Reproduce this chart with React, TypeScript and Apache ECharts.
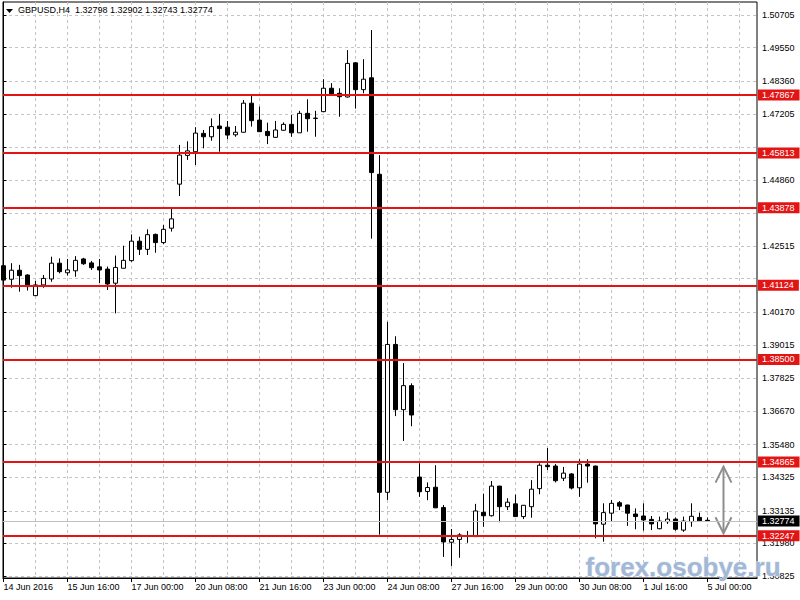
import React, { useEffect, useRef } from 'react';
import * as echarts from 'echarts';

// ---- data (GBPUSD, H4) ----
const X_TICK_LABELS = ['14 Jun 2016', '15 Jun 16:00', '17 Jun 00:00', '20 Jun 08:00', '21 Jun 16:00', '23 Jun 00:00', '24 Jun 08:00', '27 Jun 16:00', '29 Jun 00:00', '30 Jun 08:00', '1 Jul 16:00', '5 Jul 00:00'];
const BARS_PER_LABEL = 8;
const BARS_PER_GRID = 4;

const OPEN = [
  1.4182, 1.4134, 1.4166, 1.4149, 1.4076, 1.4114, 1.4135, 1.4191, 1.4157, 1.4164,
  1.4206, 1.4192, 1.4178, 1.4170, 1.4120, 1.4173, 1.4200, 1.4269, 1.4240, 1.4293,
  1.4264, 1.4315, 1.4471, 1.4573, 1.4586, 1.4651, 1.4639, 1.4677, 1.4673, 1.4646,
  1.4655, 1.4758, 1.4698, 1.4658, 1.4637, 1.4662, 1.4683, 1.4653, 1.4722, 1.4705,
  1.4728, 1.4811, 1.4793, 1.4780, 1.4901, 1.4806, 1.4848, 1.4506, 1.3379, 1.3903,
  1.3672, 1.3757, 1.3433, 1.3382, 1.3397, 1.3325, 1.3202, 1.3212, 1.3225, 1.3222,
  1.3308, 1.3296, 1.3401, 1.3328, 1.3338, 1.3293, 1.3328, 1.3392, 1.3475, 1.3472,
  1.3429, 1.3444, 1.3395, 1.3479, 1.3472, 1.3266, 1.3305, 1.3342, 1.3334, 1.3302,
  1.3295, 1.3283, 1.3250, 1.3275, 1.3284, 1.3245, 1.3275, 1.3290, 1.32798,
];
const HIGH = [
  1.4188, 1.4191, 1.4185, 1.4152, 1.4128, 1.4149, 1.4214, 1.4208, 1.4206, 1.4216,
  1.4210, 1.4199, 1.4206, 1.4179, 1.4218, 1.4253, 1.4293, 1.4285, 1.4311, 1.4296,
  1.4326, 1.4383, 1.4610, 1.4623, 1.4673, 1.4663, 1.4704, 1.4720, 1.4695, 1.4677,
  1.4769, 1.4784, 1.4746, 1.4689, 1.4695, 1.4690, 1.4716, 1.4731, 1.4772, 1.4731,
  1.4843, 1.4829, 1.4811, 1.4946, 1.4903, 1.4914, 1.5017, 1.4574, 1.3983, 1.3932,
  1.3837, 1.3765, 1.3482, 1.3414, 1.3475, 1.3334, 1.3249, 1.3234, 1.3242, 1.3338,
  1.3374, 1.3419, 1.3402, 1.3358, 1.3371, 1.3334, 1.3422, 1.3482, 1.3536, 1.3479,
  1.3469, 1.3447, 1.3496, 1.3496, 1.3473, 1.3340, 1.3352, 1.3348, 1.3335, 1.3322,
  1.3340, 1.3295, 1.3293, 1.3308, 1.3290, 1.3293, 1.3340, 1.3307, 1.32902,
];
const LOW = [
  1.4121, 1.4104, 1.4090, 1.4094, 1.4075, 1.4104, 1.4125, 1.4155, 1.4147, 1.4143,
  1.4185, 1.4167, 1.4120, 1.4096, 1.4013, 1.4173, 1.4196, 1.4220, 1.4220, 1.4228,
  1.4259, 1.4303, 1.4429, 1.4557, 1.4539, 1.4598, 1.4625, 1.4586, 1.4630, 1.4639,
  1.4654, 1.4675, 1.4656, 1.4613, 1.4636, 1.4661, 1.4639, 1.4653, 1.4657, 1.4639,
  1.4727, 1.4790, 1.4710, 1.4778, 1.4739, 1.4793, 1.4278, 1.3229, 1.3352, 1.3649,
  1.3561, 1.3613, 1.3363, 1.3351, 1.3323, 1.3150, 1.3118, 1.3147, 1.3200, 1.3221,
  1.3257, 1.3293, 1.3273, 1.3316, 1.3292, 1.3284, 1.3289, 1.3372, 1.3458, 1.3414,
  1.3419, 1.3389, 1.3363, 1.3413, 1.3216, 1.3204, 1.3275, 1.3316, 1.3260, 1.3248,
  1.3243, 1.3245, 1.3248, 1.3267, 1.3243, 1.3239, 1.3257, 1.3277, 1.32743,
];
const CLOSE = [
  1.4131, 1.4166, 1.4147, 1.4108, 1.4114, 1.4137, 1.4191, 1.4161, 1.4167, 1.4201,
  1.4189, 1.4175, 1.4167, 1.4117, 1.4176, 1.4201, 1.4269, 1.4240, 1.4292, 1.4264,
  1.4311, 1.4348, 1.4574, 1.4589, 1.4652, 1.4639, 1.4675, 1.4668, 1.4645, 1.4655,
  1.4758, 1.4696, 1.4657, 1.4643, 1.4663, 1.4683, 1.4653, 1.4722, 1.4703, 1.4704,
  1.4811, 1.4791, 1.4781, 1.4899, 1.4806, 1.4843, 1.4512, 1.3379, 1.3903, 1.3672,
  1.3757, 1.3653, 1.3381, 1.3396, 1.3324, 1.3203, 1.3212, 1.3228, 1.3224, 1.3313,
  1.3296, 1.3401, 1.3328, 1.3344, 1.3293, 1.3333, 1.3390, 1.3475, 1.3470, 1.3420,
  1.3447, 1.3394, 1.3479, 1.3472, 1.3267, 1.3307, 1.3340, 1.3330, 1.3305, 1.3293,
  1.3281, 1.3267, 1.3277, 1.3284, 1.3248, 1.3277, 1.3294, 1.3278, 1.32774,
];

const Y_TICKS = [1.50705, 1.49550, 1.48360, 1.47205, 1.46015, 1.44860, 1.43670, 1.42515, 1.41360, 1.40170, 1.39015, 1.37825, 1.36670, 1.35480, 1.34325, 1.33135, 1.31980, 1.30825];
const Y_HIDDEN_LABELS = [1.46015, 1.43670, 1.41360];
const LEVELS = [1.47867, 1.45813, 1.43878, 1.41124, 1.38500, 1.34865, 1.32247];
const BID = 1.32774;
const RANGE_ARROW = [90, 1.3470, 1.3234];
const TITLE = 'GBPUSD,H4  1.32798 1.32902 1.32743 1.32774';
const WATERMARK = 'forex.osobye.ru';

// ---- view window ----
const X_MIN = -0.0625;
const X_MAX = 94.1875;
const Y_MIN = 1.30753;
const Y_MAX = 1.51166;

const RED = '#e31414';
const GRID_GRAY = '#c4c4c4';
const FONT = '"Liberation Sans", Arial, sans-serif';

const labelIdx: number[] = X_TICK_LABELS.map((_, k) => k * BARS_PER_LABEL);
const gridIdx: number[] = [];
for (let v = BARS_PER_GRID; v < X_MAX; v += BARS_PER_GRID) gridIdx.push(v);

function buildOption(): any {
  const candles = OPEN.map((o, i) => [i, o, CLOSE[i], LOW[i], HIGH[i]]);
  const levelLines = LEVELS.map((v) => ({
    yAxis: v,
    lineStyle: { color: RED, width: 2, type: 'solid' },
    label: {
      show: true, position: 'end', distance: 1, formatter: v.toFixed(5),
      backgroundColor: RED, color: '#fff', padding: [1, 5, 1, 4], fontSize: 9, fontFamily: FONT,
    },
  }));
  const bidLine = {
    yAxis: BID,
    lineStyle: { color: '#c0c0c0', width: 1, type: 'solid' },
    label: {
      show: true, position: 'end', distance: 1, formatter: BID.toFixed(5),
      backgroundColor: '#000', color: '#fff', padding: [1, 5, 1, 4], fontSize: 9, fontFamily: FONT,
    },
  };
  return {
    animation: false,
    backgroundColor: '#fff',
    textStyle: { fontFamily: FONT },
    grid: { left: 3, right: 43, top: 2, bottom: 22, show: true, borderColor: '#000', borderWidth: 1 },
    xAxis: [
      {
        type: 'value', position: 'top', min: X_MIN, max: X_MAX,
        axisLine: { show: false },
        axisTick: { show: false, customValues: gridIdx },
        axisLabel: { show: false },
        splitLine: { show: true, lineStyle: { color: GRID_GRAY, type: [3, 3], width: 1 } },
      },
      {
        type: 'value', position: 'bottom', min: X_MIN, max: X_MAX,
        axisLine: { show: true, lineStyle: { color: '#000', width: 1 } },
        axisTick: { show: true, customValues: labelIdx, length: 4, lineStyle: { color: '#000' } },
        axisLabel: {
          customValues: labelIdx, align: 'left', margin: 4, fontSize: 9, color: '#000', fontFamily: FONT,
          formatter: (v: number) => X_TICK_LABELS[Math.round(v / BARS_PER_LABEL)] ?? '',
        },
        splitLine: { show: false },
      },
    ],
    yAxis: {
      type: 'value', position: 'right', min: Y_MIN, max: Y_MAX, scale: true,
      axisLine: { show: true, lineStyle: { color: '#000', width: 1 } },
      axisTick: { show: true, customValues: Y_TICKS, length: 3, lineStyle: { color: '#000' } },
      axisLabel: {
        customValues: Y_TICKS.filter((v) => !Y_HIDDEN_LABELS.includes(v)),
        margin: 5, fontSize: 9, color: '#000', fontFamily: FONT,
        formatter: (v: number) => v.toFixed(5),
      },
      splitLine: { show: true, lineStyle: { color: GRID_GRAY, type: [3, 3], width: 1 } },
    },
    series: [
      {
        type: 'candlestick',
        xAxisIndex: 0,
        data: candles,
        barWidth: 4,
        itemStyle: { color: '#fff', color0: '#000', borderColor: '#000', borderColor0: '#000', borderWidth: 1 },
        markLine: { silent: true, symbol: 'none', precision: 5, animation: false, data: [bidLine, ...levelLines] },
      },
      {
        type: 'custom',
        xAxisIndex: 0,
        silent: true,
        data: [RANGE_ARROW],
        renderItem: (_p: any, api: any) => {
          const top = api.coord([api.value(0), api.value(1)]);
          const bot = api.coord([api.value(0), api.value(2)]);
          const style = { stroke: '#8e8e8e', lineWidth: 2, fill: 'none' };
          return {
            type: 'group',
            children: [
              { type: 'line', shape: { x1: top[0], y1: top[1], x2: bot[0], y2: bot[1] }, style },
              { type: 'polyline', shape: { points: [[top[0] - 8, top[1] + 16], [top[0], top[1]], [top[0] + 8, top[1] + 16]] }, style },
              { type: 'polyline', shape: { points: [[bot[0] - 8, bot[1] - 16], [bot[0], bot[1]], [bot[0] + 8, bot[1] - 16]] }, style },
            ],
          };
        },
      },
    ],
    graphic: [
      { type: 'polygon', z: 100, shape: { points: [[6, 9], [13, 9], [9.5, 13]] }, style: { fill: '#000' } },
      { type: 'text', z: 100, left: 18, top: 5, style: { text: TITLE, font: `9px ${FONT}`, fill: '#000' } },
      {
        type: 'text', z: 100, left: 585, top: 553,
        style: { text: WATERMARK, font: `bold 26px ${FONT}`, fill: '#a2b8d6', stroke: '#e4ebf5', lineWidth: 1 },
      },
    ],
  };
}

export default function App() {
  const ref = useRef<HTMLDivElement>(null);
  useEffect(() => {
    if (!ref.current) return;
    const chart = echarts.init(ref.current, undefined, { renderer: 'svg' });
    chart.setOption(buildOption());
    return () => chart.dispose();
  }, []);
  return (
    <div
      ref={ref}
      style={{ position: 'absolute', left: 0, top: 0, width: 800, height: 600, background: '#fff' }}
    />
  );
}
